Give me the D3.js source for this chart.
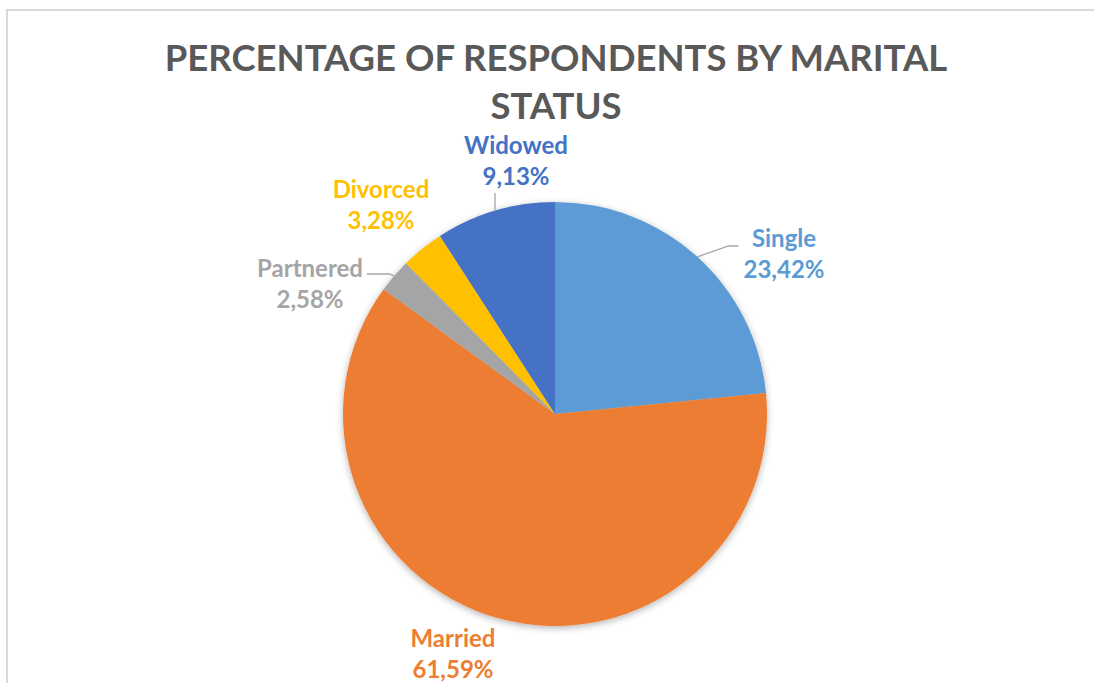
<!DOCTYPE html>
<html>
<head>
<meta charset="utf-8">
<script src="https://cdn.jsdelivr.net/npm/d3@7"></script>
<style>
  html, body { margin: 0; padding: 0; background: #fff; }
  svg { display: block; }
  text { font-family: Lato, "Open Sans", sans-serif; font-weight: bold; }
</style>
</head>
<body>
<svg id="chart" width="1094" height="683"></svg>
<script>
// ---- data ----
const categories = ["Single", "Married", "Partnered", "Divorced", "Widowed"];
const values = [23.42, 61.59, 2.58, 3.28, 9.13];
const valueLabels = ["23,42%", "61,59%", "2,58%", "3,28%", "9,13%"];
const titleLines = ["PERCENTAGE OF RESPONDENTS BY MARITAL", "STATUS"];

// ---- style / layout ----
const colors = ["#5B9BD5", "#ED7D31", "#A5A5A5", "#FFC000", "#4472C4"];
// label block centre offsets (dx, dy of first baseline) relative to pie centre, and leader type
const labelLayout = [
  { dx: 229, dy: -167, leader: "left" },
  { dx: -102, dy: 233, leader: "none" },
  { dx: -245, dy: -137, leader: "right" },
  { dx: -174, dy: -216, leader: "none" },
  { dx: -39, dy: -260, leader: "bottom" }
];

const W = 1094, H = 683;
const cx = 555, cy = 414, R = 212;
const svg = d3.select("#chart");

// chart area border
svg.append("rect")
  .attr("x", 7).attr("y", 10)
  .attr("width", 1200).attr("height", 800)
  .attr("fill", "#fff")
  .attr("stroke", "#d9d9d9").attr("stroke-width", 2);

// title
svg.append("g").selectAll("text")
  .data(titleLines).join("text")
  .attr("x", 556)
  .attr("y", (d, i) => 71 + i * 48)
  .attr("text-anchor", "middle")
  .attr("fill", "#595959")
  .attr("font-size", 36.5)
  .text(d => d);

// shadow filter
const defs = svg.append("defs");
const f = defs.append("filter").attr("id", "shadow")
  .attr("x", "-10%").attr("y", "-10%").attr("width", "120%").attr("height", "120%");
f.append("feDropShadow").attr("dx", 0).attr("dy", 2).attr("stdDeviation", 3.5)
  .attr("flood-color", "#000").attr("flood-opacity", 0.3);

const pie = d3.pie().sort(null).value(d => d.v);
const data = categories.map((c, i) => ({ c, v: values[i], i }));
const arcs = pie(data);
const arc = d3.arc().innerRadius(0).outerRadius(R);

const g = svg.append("g").attr("transform", `translate(${cx},${cy})`);
g.append("g").attr("filter", "url(#shadow)")
  .selectAll("path").data(arcs).join("path")
  .attr("d", arc)
  .attr("fill", d => colors[d.data.i]);

// labels
const lblG = g.append("g");
arcs.forEach(a => {
  const i = a.data.i;
  const L = labelLayout[i];
  const t = lblG.append("text")
    .attr("text-anchor", "middle")
    .attr("fill", colors[i])
    .attr("font-size", 24);
  t.append("tspan").attr("x", L.dx).attr("y", L.dy).text(a.data.c);
  t.append("tspan").attr("x", L.dx).attr("y", L.dy + 31).text(valueLabels[i]);

  if (L.leader === "none") return;
  const bb = t.node().getBBox();
  const mid = (a.startAngle + a.endAngle) / 2;
  const px = R * Math.sin(mid), py = -R * Math.cos(mid);
  let pts;
  if (L.leader === "left") {
    const ex = bb.x - 5, ey = L.dy - 1;
    pts = [[px, py], [ex - 10, ey], [ex, ey]];
  } else if (L.leader === "right") {
    const w1 = t.select("tspan").node().getComputedTextLength();
    const ex = L.dx + w1 / 2 + 4, ey = L.dy - 3;
    pts = [[px, py], [px - 5, ey], [ex, ey]];
  } else {
    const ey = bb.y + bb.height + 3;
    pts = [[px, py], [px, ey]];
  }
  lblG.append("path")
    .attr("d", d3.line()(pts))
    .attr("fill", "none")
    .attr("stroke", "#a6a6a6")
    .attr("stroke-width", 1.3);
});
</script>
</body>
</html>
